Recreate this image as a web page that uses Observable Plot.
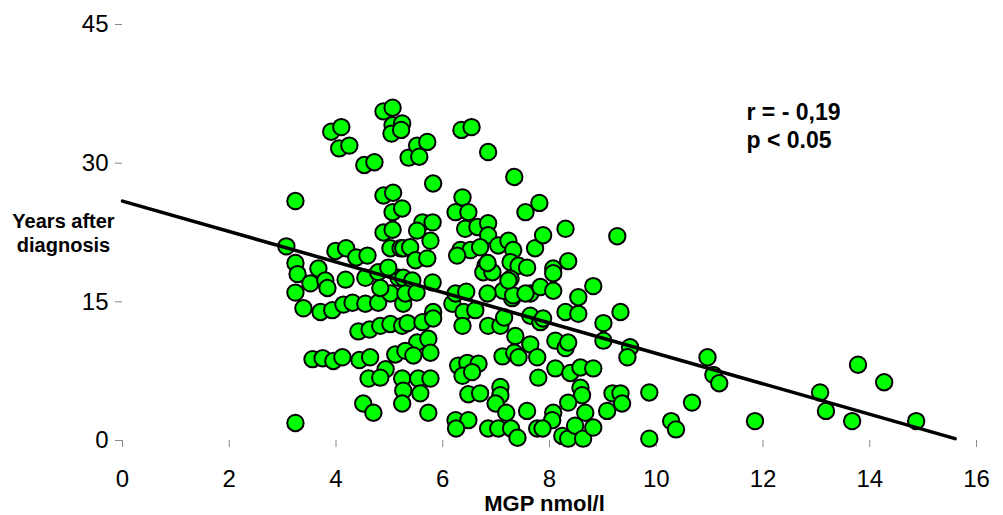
<!DOCTYPE html>
<html><head><meta charset="utf-8">
<script src="https://cdn.jsdelivr.net/npm/d3@7"></script>
<script src="https://cdn.jsdelivr.net/npm/@observablehq/plot@0.6"></script>
<style>
body{margin:0;background:#fff}
svg{font-family:"Liberation Sans",Arial,sans-serif}
</style>
</head><body><div id="chart"></div>
<script>
// MGP (nmol/l) and years after diagnosis
const mgp = [
 3.91,4.10,4.06,4.25,4.53,4.72,4.89,5.06,5.06,5.24,5.04,5.22,3.24,4.89,5.07,5.06,5.24,4.89,5.06,3.07,3.99,4.19,4.38,4.59,5.02,5.21,
 3.24,3.28,3.24,3.52,3.67,3.80,3.84,3.39,3.71,3.93,4.18,4.14,4.31,4.55,4.55,4.79,4.79,5.02,5.17,4.98,4.83,4.42,4.63,4.83,5.02,3.56,3.75,3.95,4.12,4.44,4.64,5.11,4.93,4.61,4.83,4.51,4.70,3.24,
 5.26,5.82,6.18,6.39,6.61,5.24,5.34,5.62,5.82,6.37,6.85,7.08,7.15,5.52,5.73,5.30,5.45,5.77,7.36,7.64,7.12,7.34,5.24,5.54,5.77,5.26,5.58,5.24,5.73,6.29,6.46,6.67,6.37,6.55,6.48,6.70,7.08,7.08,6.99,7.19,6.24,6.48,6.25,6.85,7.04,7.28,7.40,7.58,7.77,7.79,7.42,7.77,7.64,7.30,
 5.36,5.52,5.71,5.56,6.35,6.54,6.85,7.34,5.82,7.55,7.81,6.37,6.24,6.48,6.42,6.65,6.85,6.85,5.62,5.81,5.52,5.77,5.26,5.39,5.49,5.71,5.26,5.43,5.81,5.30,5.51,6.33,6.52,6.70,6.27,6.80,6.76,6.93,7.04,7.23,7.32,7.27,7.42,7.58,7.27,7.13,7.32,7.73,7.64,6.24,6.44,6.84,6.84,7.23,7.55,
 7.88,8.30,9.27,8.07,8.35,7.83,8.07,8.07,7.83,7.88,8.11,8.30,8.35,8.30,8.54,8.54,8.82,9.01,9.01,9.33,9.51,9.46,8.11,8.39,8.58,8.82,8.58,8.61,8.35,8.67,8.07,8.05,7.87,8.24,8.35,8.48,8.63,8.82,9.08,9.18,9.33,9.36,
 9.87,9.87,10.28,10.37,10.67,10.96,11.07,11.18,11.85,13.07,13.18,13.78,13.67,14.27,14.87
];
const years = [
 33.4,33.9,31.6,31.9,29.8,30.1,35.6,36.0,34.1,34.3,33.2,33.6,25.9,26.5,26.8,24.7,25.1,22.5,22.8,21.0,20.5,20.8,19.8,20.0,20.8,20.8,
 19.2,18.0,16.0,17.0,18.6,17.3,16.5,14.3,13.9,14.1,17.4,14.7,14.9,14.8,17.6,18.2,14.9,15.9,17.6,18.7,16.5,11.8,12.0,12.4,12.6,8.8,8.9,8.6,9.0,8.7,9.0,9.3,7.7,6.7,6.8,4.0,3.0,1.9,
 14.8,13.9,14.8,13.9,14.1,12.4,12.7,12.8,13.2,12.4,12.4,12.4,13.3,10.6,11.0,9.7,9.2,9.5,11.3,10.4,9.1,9.5,6.7,6.7,6.7,5.4,5.1,4.0,3.0,8.1,8.4,8.3,7.0,7.4,5.0,5.1,5.8,4.9,4.0,3.0,2.2,2.2,1.3,1.3,1.3,1.3,0.3,3.2,1.3,6.8,9.0,9.0,13.5,15.4,
 30.6,31.9,32.3,30.7,33.6,33.9,31.2,28.5,27.8,24.7,25.7,26.3,24.7,24.7,22.9,23.1,23.5,22.2,23.6,23.6,22.7,21.6,20.8,20.9,19.5,19.7,17.6,17.3,17.1,15.9,16.0,20.6,20.6,20.9,20.0,18.9,18.2,18.2,21.1,21.6,20.6,19.3,18.9,18.7,17.5,16.2,15.7,20.8,15.9,15.9,16.1,15.9,19.2,17.3,15.9,
 22.2,22.9,22.1,18.6,19.4,16.6,16.2,18.1,12.8,13.2,10.8,10.0,10.6,13.9,13.7,15.5,16.7,12.7,10.8,13.9,10.1,9.0,7.8,7.3,7.9,7.8,5.7,4.9,4.1,3.0,3.0,2.2,1.3,0.5,0.2,1.6,0.2,1.4,3.2,5.1,5.1,4.0,
 5.2,0.2,2.1,1.2,4.1,9.0,7.1,6.2,2.1,5.2,3.2,8.2,2.1,6.3,2.1
];
const xTicks = [0,2,4,6,8,10,12,14,16];
const yTicks = [0,15,30,45];
const fitX = [0, 15.6];
const fitY = [25.9, 0.2];
const statsText = ["r = - 0,19", "p < 0.05"];
const xLabel = "MGP nmol/l";
const yLabel = ["Years after", "diagnosis"];

const points = mgp.map((x, i) => ({x, y: years[i]}));
const fit = fitX.map((x, i) => ({x, y: fitY[i]}));

const chart = Plot.plot({
  width: 1003, height: 515,
  marginLeft: 122, marginRight: 27, marginTop: 24, marginBottom: 75,
  style: {fontFamily: '"Liberation Sans", Arial, sans-serif', background: "white", color: "black", overflow: "visible"},
  x: {domain: [0, 16]},
  y: {domain: [0, 45]},
  marks: [
    Plot.axisY({ticks: yTicks, tickSize: 7, tickPadding: 7, fontSize: 24, stroke: "#888", fill: "black", label: null}),
    Plot.axisX({ticks: xTicks, tickSize: 7, tickPadding: 22, fontSize: 24, stroke: "#888", fill: "black", label: null}),
    Plot.dot(points, {x: "x", y: "y", r: 8.2, fill: "#00ff00", stroke: "black", strokeWidth: 2}),
    Plot.line(fit, {x: "x", y: "y", stroke: "black", strokeWidth: 3.5}),
    Plot.text([statsText.join("\n")], {frameAnchor: "top-left", dx: 624, dy: 76, textAnchor: "start", lineAnchor: "top", fontSize: 23, fontWeight: "bold", lineHeight: 1.22}),
    Plot.text([yLabel.join("\n")], {frameAnchor: "left", dx: -59, textAnchor: "middle", lineAnchor: "middle", fontSize: 20, fontWeight: "bold", lineHeight: 1.18}),
    Plot.text([xLabel], {frameAnchor: "bottom", dx: -5, dy: 63, textAnchor: "middle", lineAnchor: "middle", fontSize: 22, fontWeight: "bold"})
  ]
});
document.getElementById("chart").appendChild(chart);
</script>
</body></html>
